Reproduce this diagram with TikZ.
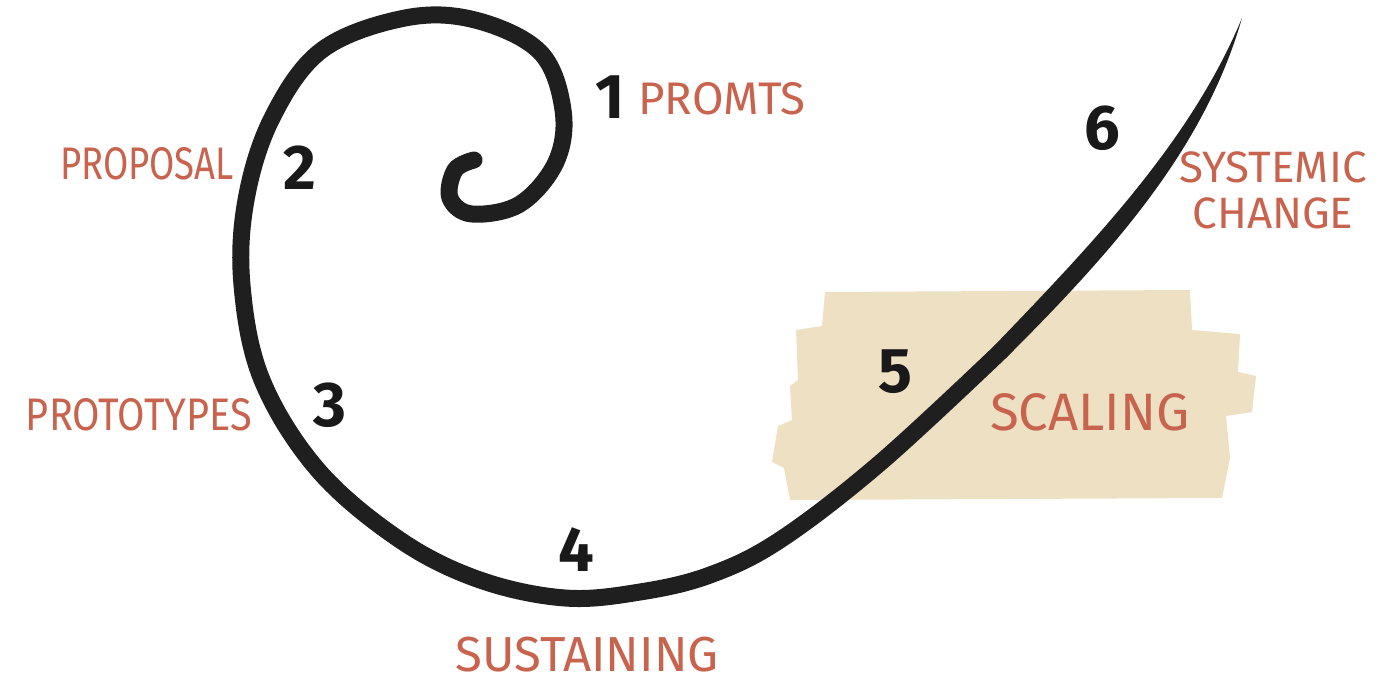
\documentclass[tikz,border=0pt]{standalone}
\usepackage{fontspec}
\setmainfont{Fira Sans}
\usepackage{tikz}
\usetikzlibrary{positioning}
\definecolor{inkred}{HTML}{C8634E}
\definecolor{brush}{HTML}{EEE0C2}

\begin{document}
\begin{tikzpicture}[x=0.02cm,y=-0.02cm,
   stage/.style={text=inkred,inner sep=0pt,anchor=base,text depth=0pt},
   num/.style={text=black!90,font=\fontsize{36}{36}\selectfont\bfseries,inner sep=0pt}]
  \useasboundingbox (0,0) rectangle (1395,682);
  % brush patch behind scaling
  \fill[brush] (825,292) -- (1190,290) -- (1192,330) -- (1240,334) -- (1238,372)
     -- (1256,376) -- (1252,412) -- (1226,416) -- (1230,458) -- (1222,498)
     -- (790,500) -- (784,468) -- (772,462) -- (778,426) -- (792,420)
     -- (790,386) -- (798,380) -- (796,330) -- (822,326) -- cycle;
  % spiral
  \draw[line width=0.34cm,line cap=round,black!88]
    plot[smooth,tension=0.6] coordinates {(474,160) (455,170) (450,198) (472,214)
      (520,204) (556,162) (563,110) (540,52) (475,20) (405,18) (322,50) (272,118)
      (246,200) (242,285) (262,380) (318,470) (400,540) (480,580) (565,598)
      (640,592) (710,575) (780,540) (880,463) (1000,352)};
  \fill[black!88] (994,346) .. controls (1100,236) and (1192,138) .. (1242,18)
     .. controls (1204,150) and (1112,252) .. (1006,358) -- cycle;
  % numbers
  \node[num] (n1) at (610,97) {1};
  \node[num] (n2) at (300,168) {2};
  \node[num] (n3) at (330,405) {3};
  \node[num] (n4) at (576,550) {4};
  \node[num] (n5) at (895,372) {5};
  \node[num] (n6) at (1102,128) {6};
  % labels
  \node[stage,font=\fontsize{26}{28}\selectfont] (promts) at (722,115) {PROMTS};
  \node[stage,font=\fontsize{26}{28}\selectfont\addfontfeature{FakeStretch=0.8}] (proposal) at (147,180) {PROPOSAL};
  \node[stage,font=\fontsize{26}{28}\selectfont\addfontfeature{FakeStretch=0.87}] (prototypes) at (139,430) {PROTOTYPES};
  \node[stage,font=\fontsize{28}{30}\selectfont] (sustaining) at (587,671) {SUSTAINING};
  \node[stage,font=\fontsize{30}{30}\selectfont] (scaling) at (1090,430) {SCALING};
  \node[stage,anchor=center,align=center,font=\fontsize{25}{26}\selectfont] (systemic) at (1273,190) {SYSTEMIC\\CHANGE};
\end{tikzpicture}
\end{document}
